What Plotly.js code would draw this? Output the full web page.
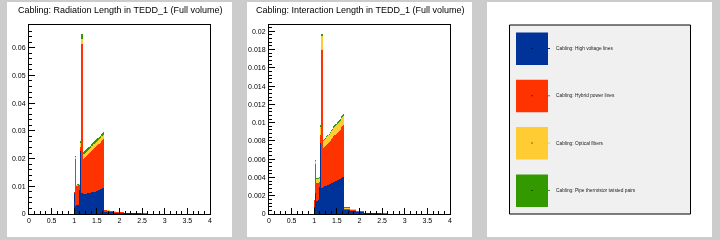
<!DOCTYPE html>
<html>
<head>
<meta charset="utf-8">
<script src="https://cdn.plot.ly/plotly-3.0.1.min.js"></script>
<style>
  html, body { margin: 0; padding: 0; background: #cccccc; }
  #chart { width: 720px; height: 240px; }
  /* histogram fills drawn pixel-sharp, like a bitmap histogram */
  #chart path.js-fill { shape-rendering: crispEdges; }
  /* render the svg on its own layer so small labels get grayscale antialiasing */
  #chart .main-svg { will-change: transform; }
</style>
</head>
<body>
<div id="chart"></div>
<script>
// Histogram binning in eta: bins of width 0.02 starting at eta = 1.00
const binStart = 1.0;
const binWidth = 0.02;

const seriesNames = [
  'Cabling: High voltage lines',
  'Cabling: Hybrid power lines',
  'Cabling: Optical fibers',
  'Cabling: Pipe thermistor twisted pairs'
];
const seriesColors = ['#003399', '#ff3300', '#ffcc33', '#339900'];

const panelTitles = [
  'Cabling: Radiation Length in TEDD_1 (Full volume)',
  'Cabling: Interaction Length in TEDD_1 (Full volume)'
];

// ---- Radiation length, per component (83 bins: 1.00 .. 2.66) ----
const radHV = [
  0.0077, 0.0030, 0.0031, 0.0032, 0.0033, 0.0085, 0.0226, 0.0078, 0.0075, 0.0075,
  0.0071, 0.0071, 0.0071, 0.0072, 0.0074, 0.0074, 0.0075, 0.0077, 0.0077, 0.0078, 0.0078,
  0.0080, 0.0080, 0.0081, 0.0084, 0.0084, 0.0085, 0.0088, 0.0089, 0.0089, 0.0092, 0.0093, 0.0094,
  0.0008, 0.0008, 0.0008, 0.0007, 0.0007, 0.0007, 0.0007,
  0.0006, 0.0006, 0.0006, 0.0006, 0.0005, 0.0005,
  0.0004, 0.0004, 0.0004, 0.0004, 0.0004, 0.0004, 0.0004, 0.0004, 0.0004,
  0.0003, 0.0003, 0.0003, 0.0003, 0.0003, 0.0003, 0.0003, 0.0003, 0.0003, 0.0003,
  0.0002, 0.0002, 0.0002, 0.0002, 0.0002, 0.0002, 0.0002, 0.0002, 0.0002,
  0, 0, 0, 0, 0, 0, 0, 0, 0
];
const radPower = [
  0.0003, 0.0170, 0.0071, 0.0070, 0.0070, 0.0018, 0.0014, 0.0537, 0.0540, 0.0540,
  0.0129, 0.0132, 0.0135, 0.0137, 0.0139, 0.0142, 0.0144, 0.0145, 0.0148, 0.0151, 0.0154,
  0.0155, 0.0158, 0.0160, 0.0161, 0.0164, 0.0166, 0.0166, 0.0168, 0.0172, 0.0172, 0.0174, 0.0176,
  0.0005, 0.0005, 0.0005, 0.0005, 0.0005, 0.0005, 0.0005,
  0.0004, 0.0004, 0.0004, 0.0004, 0.0004, 0.0004,
  0.0003, 0.0003, 0.0003, 0.0003, 0.0003, 0.0003, 0.0003, 0.0003, 0.0003,
  0.0001, 0.0001, 0.0001, 0.0001, 0.0001, 0.0001, 0.0001, 0.0001, 0.0001, 0.0001,
  0.0001, 0.0001, 0.0001, 0, 0, 0, 0, 0, 0,
  0, 0, 0, 0, 0, 0, 0, 0, 0
];
const radFibers = [
  0, 0.0005, 0.0002, 0.0003, 0.0003, 0.0004, 0.0015, 0.0015, 0.0015, 0.0015,
  0.0015, 0.0015, 0.0015, 0.0015, 0.0015, 0.0015, 0.0015, 0.0015, 0.0015, 0.0015, 0.0015,
  0.0016, 0.0016, 0.0016, 0.0016, 0.0016, 0.0016, 0.0016, 0.0016, 0.0016, 0.0016, 0.0016, 0.0016,
  0.0002, 0.0002, 0.0002, 0.0002, 0.0002, 0.0002, 0.0002,
  0.0002, 0.0002, 0.0002, 0.0002, 0.0002, 0.0002,
  0.0001, 0.0001, 0.0001, 0.0001, 0.0001, 0.0001, 0.0001, 0.0001, 0.0001,
  0.0001, 0.0001, 0.0001, 0.0001, 0.0001, 0.0001, 0, 0, 0, 0,
  0, 0, 0, 0, 0, 0, 0, 0, 0,
  0, 0, 0, 0, 0, 0, 0, 0, 0
];
const radThermo = [
  0, 0.0005, 0.0002, 0.0002, 0.0002, 0.0003, 0.0010, 0.0020, 0.0020, 0.0020,
  0.0009, 0.0009, 0.0009, 0.0009, 0.0009, 0.0009, 0.0009, 0.0009, 0.0009, 0.0009, 0.0009,
  0.0009, 0.0009, 0.0009, 0.0009, 0.0009, 0.0009, 0.0009, 0.0009, 0.0009, 0.0009, 0.0009, 0.0009,
  0.0001, 0.0001, 0.0001, 0.0001, 0.0001, 0.0001, 0.0001,
  0, 0, 0, 0, 0, 0,
  0, 0, 0, 0, 0, 0, 0, 0, 0,
  0, 0, 0, 0, 0, 0, 0, 0, 0, 0,
  0, 0, 0, 0, 0, 0, 0, 0, 0,
  0.0002, 0.0002, 0.0002, 0.0002, 0.0002, 0.0002, 0.0002, 0.0002, 0
];

// ---- Interaction length, per component (83 bins: 1.00 .. 2.66) ----
const intHV = [
  0.0008, 0.0023, 0.0014, 0.0014, 0.0015, 0.0030, 0.0078, 0.0029, 0.0028, 0.0028,
  0.0030, 0.0031, 0.0031, 0.0031, 0.0032, 0.0032, 0.0033, 0.0033, 0.0034, 0.0034, 0.0034,
  0.0035, 0.0035, 0.0036, 0.0036, 0.0037, 0.0037, 0.0038, 0.0038, 0.0039, 0.0039, 0.0040, 0.0041,
  0.0004, 0.0004, 0.0004, 0.0004, 0.0004, 0.0004, 0.0004,
  0.0003, 0.0003, 0.0003, 0.0003, 0.0003, 0.0003,
  0.0002, 0.0002, 0.0002, 0.0002, 0.0002, 0.0002, 0.0002, 0.0002, 0.0002,
  0.0001, 0.0001, 0.0001, 0.0001, 0.0001, 0.0001, 0.0001, 0.0001, 0.0001, 0.0001,
  0.00008, 0.00008, 0.00008, 0.00008, 0.00008, 0.00008, 0.00008, 0.00008, 0.00008,
  0, 0, 0, 0, 0, 0, 0, 0, 0
];
const intPower = [
  0.0007, 0.0032, 0.0020, 0.0020, 0.0019, 0.0005, 0.0008, 0.0151, 0.0152, 0.0152,
  0.0042, 0.0042, 0.0043, 0.0045, 0.0045, 0.0046, 0.0046, 0.0047, 0.0047, 0.0048, 0.0049,
  0.0050, 0.0051, 0.0051, 0.0052, 0.0052, 0.0053, 0.0053, 0.0054, 0.0055, 0.0056, 0.0056, 0.0056,
  0.0002, 0.0002, 0.0002, 0.0002, 0.0002, 0.0002, 0.0002,
  0.00015, 0.00015, 0.00015, 0.00015, 0.00015, 0.00015,
  0.0001, 0.0001, 0.0001, 0.0001, 0.0001, 0.0001, 0.0001, 0.0001, 0.0001,
  0.00005, 0.00005, 0.00005, 0.00005, 0.00005, 0.00005, 0.00005, 0.00005, 0.00005, 0.00005,
  0, 0, 0, 0, 0, 0, 0, 0, 0,
  0, 0, 0, 0, 0, 0, 0, 0, 0
];
const intFibers = [
  0, 0.0003, 0.0004, 0.0004, 0.0004, 0.0004, 0.0009, 0.0015, 0.0015, 0.0015,
  0.0008, 0.0008, 0.0008, 0.0008, 0.0008, 0.0008, 0.0008, 0.0009, 0.0009, 0.0009, 0.0009,
  0.0009, 0.0009, 0.0009, 0.0009, 0.0010, 0.0010, 0.0010, 0.0010, 0.0010, 0.0010, 0.0010, 0.0010,
  0.0001, 0.0001, 0.0001, 0.0001, 0.0001, 0.0001, 0.0001,
  0.0001, 0.0001, 0.0001, 0.0001, 0.0001, 0.0001,
  0.00005, 0.00005, 0.00005, 0.00005, 0.00005, 0.00005, 0.00005, 0.00005, 0.00005,
  0, 0, 0, 0, 0, 0, 0, 0, 0, 0,
  0, 0, 0, 0, 0, 0, 0, 0, 0,
  0, 0, 0, 0, 0, 0, 0, 0, 0
];
const intThermo = [
  0, 0.0001, 0.0001, 0.0001, 0.0001, 0.0001, 0.0002, 0.0002, 0.0002, 0.0002,
  0.0001, 0.0001, 0.0001, 0.0001, 0.0001, 0.0001, 0.0001, 0.0001, 0.0001, 0.0001, 0.0001,
  0.0002, 0.0002, 0.0002, 0.0002, 0.0002, 0.0002, 0.0002, 0.0002, 0.0002, 0.0002, 0.0002, 0.0002,
  0.00003, 0.00003, 0.00003, 0.00003, 0.00003, 0.00003, 0.00003,
  0, 0, 0, 0, 0, 0,
  0, 0, 0, 0, 0, 0, 0, 0, 0,
  0, 0, 0, 0, 0, 0, 0, 0, 0, 0,
  0, 0, 0, 0, 0, 0, 0, 0, 0,
  0.00006, 0.00006, 0.00006, 0.00006, 0.00006, 0.00006, 0.00006, 0.00006, 0
];

const radSeries = [radHV, radPower, radFibers, radThermo];
const intSeries = [intHV, intPower, intFibers, intThermo];

// ---------------------------------------------------------------------------
const W = 720, H = 240;
const px = v => v / W;          // pixel -> paper x
const py = v => 1 - v / H;      // pixel (from top) -> paper y
const FONT = 'Liberation Sans, Arial, Helvetica, sans-serif';

// Bin edges (left edges plus the closing right edge) for step-style drawing
const binEdges = radHV.map((_, i) => binStart + binWidth * i)
  .concat([binStart + binWidth * radHV.length]);

// Stacked histogram: each layer is the running sum of the components below it,
// filled down to zero; the tallest layer is drawn first so lower ones sit on top.
const traces = [];
function addStack(series, xa, ya) {
  const cumulative = [];
  series.forEach((vals, s) => {
    cumulative.push(vals.map((v, i) => v + (s > 0 ? cumulative[s - 1][i] : 0)));
  });
  for (let s = series.length - 1; s >= 0; s--) {
    const top = cumulative[s];
    traces.push({
      type: 'scatter',
      mode: 'lines',
      x: binEdges,
      y: top.concat([top[top.length - 1]]),
      fill: 'tozeroy',
      line: { shape: 'hv', width: 0, simplify: false, color: seriesColors[s] },
      fillcolor: seriesColors[s],
      xaxis: xa,
      yaxis: ya,
      name: seriesNames[s],
      showlegend: false,
      hoverinfo: 'skip'
    });
  }
}
addStack(radSeries, 'x', 'y');
addStack(intSeries, 'x2', 'y2');

function xAxis(domain, anchor) {
  return {
    domain: domain, anchor: anchor, range: [0, 4],
    tick0: 0, dtick: 0.5,
    ticks: 'inside', ticklen: 6, tickwidth: 1, tickcolor: '#000000',
    minor: { dtick: 0.125, tick0: 0, ticks: 'inside', ticklen: 3, tickcolor: '#000000', showgrid: false },
    showline: true, linecolor: '#000000', linewidth: 1, mirror: true,
    showgrid: false, zeroline: false,
    tickfont: { family: FONT, size: 7, color: '#000000' },
    fixedrange: true
  };
}
function yAxis(domain, anchor, range, dtick, minorDtick) {
  return {
    domain: domain, anchor: anchor, range: range,
    tick0: 0, dtick: dtick,
    ticks: 'inside', ticklen: 6, tickwidth: 1, tickcolor: '#000000',
    minor: { dtick: minorDtick, tick0: 0, ticks: 'inside', ticklen: 3, tickcolor: '#000000', showgrid: false },
    showline: true, linecolor: '#000000', linewidth: 1, mirror: true,
    showgrid: false, zeroline: false,
    tickfont: { family: FONT, size: 7, color: '#000000' },
    ticklabelstandoff: 1,
    fixedrange: true
  };
}

const plotTop = 25, plotBottom = 214;
const yDom = [py(plotBottom), py(plotTop)];

const shapes = [];
// white pads
[[7, 232], [247, 472], [487, 712]].forEach(([x0, x1]) => {
  shapes.push({ type: 'rect', xref: 'paper', yref: 'paper', layer: 'below',
    x0: px(x0), x1: px(x1), y0: py(237), y1: py(2),
    fillcolor: '#ffffff', line: { width: 0 } });
});
// legend box
shapes.push({ type: 'rect', xref: 'paper', yref: 'paper', layer: 'below',
  x0: px(509.5), x1: px(690.5), y0: py(214), y1: py(25),
  fillcolor: '#f0f0f0', line: { color: '#000', width: 1 } });

const annotations = [];
const legendRowY0 = 48.5, legendRowStep = 47.3, boxHalf = 16;
seriesNames.forEach((name, i) => {
  const cy = legendRowY0 + legendRowStep * i;
  shapes.push({ type: 'rect', xref: 'paper', yref: 'paper',
    x0: px(516), x1: px(548), y0: py(cy + boxHalf + 0.5), y1: py(cy - boxHalf),
    fillcolor: seriesColors[i], line: { width: 0 } });
  shapes.push({ type: 'rect', xref: 'paper', yref: 'paper',
    x0: px(531.5), x1: px(532.5), y0: py(cy + 0.5), y1: py(cy - 0.5),
    fillcolor: '#000', line: { width: 0 } });
  shapes.push({ type: 'line', xref: 'paper', yref: 'paper',
    x0: px(548), x1: px(550), y0: py(cy), y1: py(cy),
    line: { color: seriesColors[i], width: 1 } });
  annotations.push({ xref: 'paper', yref: 'paper', x: px(554), y: py(cy),
    xanchor: 'left', yanchor: 'middle', showarrow: false, text: name,
    font: { family: FONT, size: 4.8, color: '#222' } });
});

// panel titles
[[120, panelTitles[0]], [360, panelTitles[1]]].forEach(([cx, t]) => {
  annotations.push({ xref: 'paper', yref: 'paper', x: px(cx), y: py(10),
    xanchor: 'center', yanchor: 'middle', showarrow: false, text: t,
    font: { family: FONT, size: 9, color: '#000' } });
});

const layout = {
  width: W, height: H,
  margin: { l: 0, r: 0, t: 0, b: 0, pad: 0 },
  paper_bgcolor: '#cccccc',
  plot_bgcolor: 'rgba(0,0,0,0)',
  showlegend: false,
  xaxis: xAxis([px(29), px(210)], 'y'),
  yaxis: yAxis(yDom, 'x', [0, 0.0682], 0.01, 0.002),
  xaxis2: xAxis([px(269), px(450)], 'y2'),
  yaxis2: yAxis(yDom, 'x2', [0, 0.02069], 0.002, 0.0004),
  shapes: shapes,
  annotations: annotations
};

Plotly.newPlot('chart', traces, layout, { staticPlot: true, displayModeBar: false });
</script>
</body>
</html>
